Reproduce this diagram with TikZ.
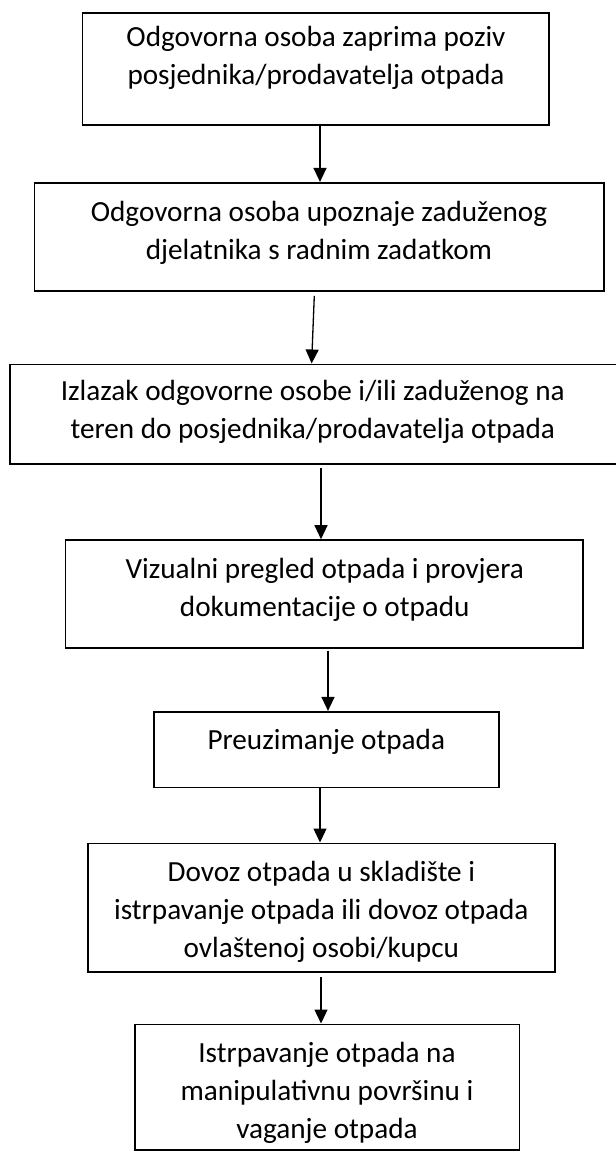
\documentclass[tikz,border=0pt]{standalone}
\usepackage{fontspec}
\setmainfont{Carlito}
\usetikzlibrary{arrows.meta,calc}
\tikzset{
  procbox/.style={draw=black, line width=1.6pt, rectangle, inner sep=0pt, fill=none},
  boxtext/.style={align=center, inner sep=0pt, font=\fontsize{29.2}{38}\selectfont},
  flow/.style={draw=black, line width=1.3pt, -{Triangle[length=14pt,width=13pt]}}
}
\begin{document}
\begin{tikzpicture}[x=1pt,y=-1pt]
\path[clip] (0,0) rectangle (616,1152);
\fill[white] (0,0) rectangle (616,1152);

\node[procbox, minimum width=466.5pt, minimum height=112.3pt] (b1) at (315.75,68.85) {};
\node[procbox, minimum width=569.4pt, minimum height=108.3pt] (b2) at (319.3,236.85) {};
\node[procbox, minimum width=607.2pt, minimum height=99.7pt] (b3) at (313.4,414.15) {};
\node[procbox, minimum width=517.1pt, minimum height=107.7pt] (b4) at (324.15,593.85) {};
\node[procbox, minimum width=345pt, minimum height=75.6pt] (b5) at (326.5,749.5) {};
\node[procbox, minimum width=466.8pt, minimum height=128.7pt] (b6) at (321.4,907.65) {};
\node[procbox, minimum width=384.2pt, minimum height=125.7pt] (b7) at (327.3,1087.15) {};

\node[boxtext] (t1) at (316,57.5) {Odgovorna osoba zaprima poziv\\posjednika/prodavatelja otpada};
\node[boxtext] (t2) at (319,233) {Odgovorna osoba upoznaje zaduženog\\djelatnika s radnim zadatkom};
\node[boxtext] (t3) at (312.8,411.7) {Izlazak odgovorne osobe i/ili zaduženog na\\teren do posjednika/prodavatelja otpada};
\node[boxtext] (t4) at (324.8,590) {Vizualni pregled otpada i provjera\\dokumentacije o otpadu};
\node[boxtext] (t5) at (326.3,741.7) {Preuzimanje otpada};
\node[boxtext] (t6) at (321.4,911.7) {Dovoz otpada u skladište i\\istrpavanje otpada ili dovoz otpada\\ovlaštenoj osobi/kupcu};
\node[boxtext] (t7) at (327,1093.3) {Istrpavanje otpada na\\manipulativnu površinu i\\vaganje otpada};

\draw[flow] (320,0 |- b1.south) -- (320,0 |- b2.north);
\draw[flow] ($(314.3,0 |- b2.south)+(0,4)$) -- (311.6,0 |- b3.north);
\draw[flow] ($(321,0 |- b3.south)+(0,3)$) -- (321,0 |- b4.north);
\draw[flow] ($(328,0 |- b4.south)+(0,2)$) -- (328,0 |- b5.north);
\draw[flow] (320,0 |- b5.south) -- (320,0 |- b6.north);
\draw[flow] ($(321,0 |- b6.south)+(0,4)$) -- (321,0 |- b7.north);
\end{tikzpicture}
\end{document}
